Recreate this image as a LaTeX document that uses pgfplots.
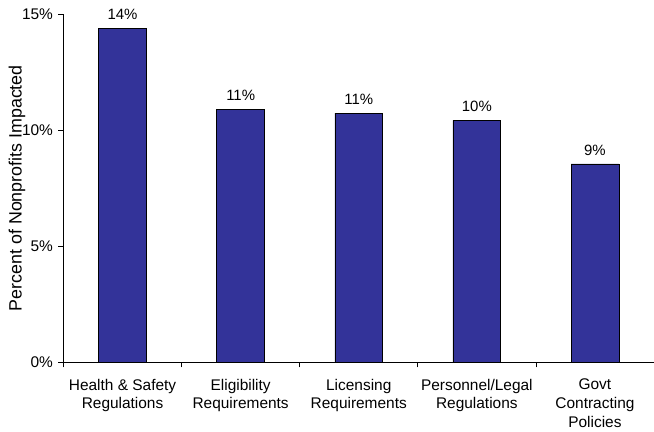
\documentclass[border=0pt]{standalone}
\usepackage{pgfplots}
\pgfplotsset{compat=1.18}
\usepackage{fontspec}
\setmainfont{Liberation Sans}
\definecolor{barblue}{RGB}{51,51,153}
\begin{document}
\begin{tikzpicture}[font=\fontsize{15.5}{19}\selectfont]
\begin{axis}[
  scale only axis, width=590.5bp, height=348.3bp,
  at={(0,0)}, anchor=south west,
  xmin=-0.5, xmax=4.5, ymin=0, ymax=15,
  axis x line*=bottom, axis y line*=left,
  axis line style={black, line width=0.8bp},
  /pgf/number format/assume math mode=true,
  ytick={0,5,10,15},
  yticklabels={0\%,5\%,10\%,15\%},
  xtick={-0.5,0.5,1.5,2.5,3.5},
  xticklabels={Health \& Safety\\Regulations, Eligibility\\Requirements, Licensing\\Requirements, Personnel/Legal\\Regulations, Govt\\Contracting\\Policies},
  xticklabel style={align=center, xshift=59.05bp, yshift=-8bp, font=\fontsize{15.5}{19}\selectfont},
  tick align=outside, major tick length=5bp,
  tick style={black, line width=0.8bp},
  yticklabel style={xshift=-2bp, font=\fontsize{15.5}{19}\selectfont},
  ylabel={Percent of Nonprofits Impacted},
  ylabel style={at={(axis description cs:-0.0787,0.5)}, anchor=center, font=\fontsize{17.9}{21}\selectfont},
  ybar, bar width=0.405,
  nodes near coords={\pgfmathprintnumber[fixed,precision=0]{\pgfplotspointmeta}\%},
  nodes near coords style={yshift=5bp, black, font=\fontsize{15}{18}\selectfont},
  clip=false,
]
\addplot[fill=barblue, draw=black, line width=0.6bp] coordinates {
  (0,14.38) (1,10.88) (2,10.73) (3,10.42) (4,8.54)
};
\end{axis}
\pgfresetboundingbox
\path[use as bounding box] (-63.5bp,-69.7bp) rectangle (590.5bp,362.3bp);
\end{tikzpicture}
\end{document}
